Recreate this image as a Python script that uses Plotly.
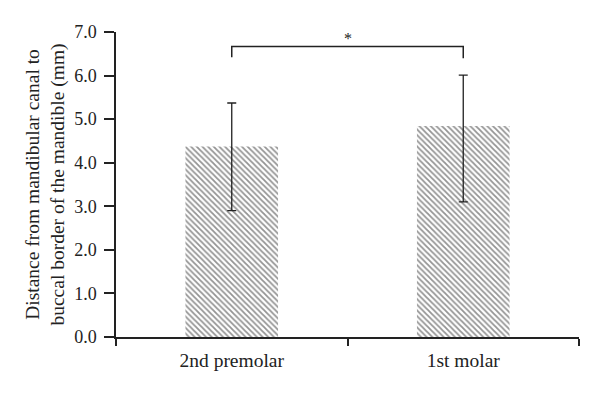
import plotly.graph_objects as go

categories = ["2nd premolar", "1st molar"]
means = [4.37, 4.84]
err_plus = [1.00, 1.17]
err_minus = [1.47, 1.74]
y_ticks = [0, 1, 2, 3, 4, 5, 6, 7]
bracket_top = 6.67
bracket_ends = [6.42, 6.40]
sig_label = "*"

FONT = "Liberation Serif"

fig = go.Figure()
fig.add_trace(go.Bar(
    x=categories, y=means, width=0.4,
    marker=dict(color="white", line=dict(width=0),
                pattern=dict(shape="\\", fgcolor="#2a2a2a", bgcolor="white",
                             size=4, solidity=0.45)),
    error_y=dict(type="data", symmetric=False, array=err_plus, arrayminus=err_minus,
                 color="#222222", thickness=1.3, width=4.5),
))

# significance bracket
fig.add_shape(type="path", xref="x", yref="y",
              path=f"M 0,{bracket_ends[0]} L 0,{bracket_top} L 1,{bracket_top} L 1,{bracket_ends[1]}",
              line=dict(color="#222222", width=1.5))
fig.add_annotation(x=0.5, y=bracket_top, xref="x", yref="y", text=sig_label,
                   showarrow=False, yanchor="bottom", yshift=-3,
                   font=dict(family=FONT, size=16, color="#222222"))

fig.update_layout(
    width=600, height=393,
    margin=dict(l=116, r=21, t=32, b=56),
    plot_bgcolor="white", paper_bgcolor="white",
    showlegend=False,
    font=dict(family=FONT, size=18, color="#222222"),
    xaxis=dict(type="category", range=[-0.5, 1.5], showline=True, linecolor="#222222",
               linewidth=1.5, ticks="outside", tickson="boundaries", ticklen=7,
               tickwidth=1.5, tickcolor="#222222", showgrid=False, zeroline=False,
               automargin=False, ticklabelstandoff=5, tickfont=dict(family=FONT, size=19.5)),
    yaxis=dict(range=[0, 7], tickvals=y_ticks, tickformat=".1f", showline=True,
               linecolor="#222222", linewidth=1.5, ticks="outside", ticklen=10,
               tickwidth=1.5, tickcolor="#222222", showgrid=False, zeroline=False,
               automargin=False, ticklabelstandoff=4, tickfont=dict(family=FONT, size=18),
               title=dict(text="Distance from mandibular canal to<br>buccal border of the mandible (mm)",
                          font=dict(family=FONT, size=19.5), standoff=4)),
)

fig.write_html("out.html", config={"displayModeBar": False},
               post_script="document.body.style.margin='0';")
